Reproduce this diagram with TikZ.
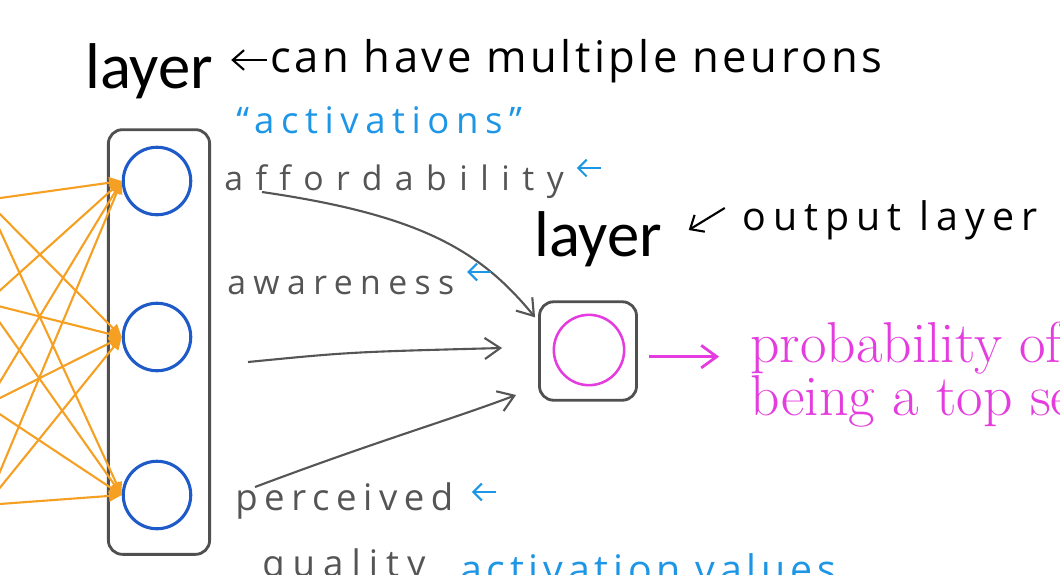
\documentclass[tikz,border=0pt]{standalone}
\usepackage{fontspec}
\usetikzlibrary{arrows.meta,positioning,calc}
\newfontfamily\labelfont{Carlito}
\newfontfamily\handfont[Ligatures=NoCommon]{Open Sans}
% handwriting-like notes: size, letter spacing
\newcommand\hand[2]{\handfont\fontsize{#1}{#1}\selectfont\addfontfeatures{LetterSpace=#2}}
\definecolor{hiddenblue}{RGB}{30,90,200}
\definecolor{edgeorange}{RGB}{245,160,35}
\definecolor{notegray}{RGB}{85,85,85}
\definecolor{noteblue}{RGB}{30,150,230}
\definecolor{outmagenta}{RGB}{228,60,222}
\definecolor{boxgray}{RGB}{80,80,80}

\begin{document}
\begin{tikzpicture}[x=0.025cm, y=-0.025cm,
    layerbox/.style={rectangle, rounded corners=10pt, draw=boxgray, line width=2pt, inner sep=0pt},
    neuron/.style={circle, draw=hiddenblue, line width=2.2pt, minimum size=48pt, inner sep=0pt},
    outneuron/.style={circle, draw=outmagenta, line width=1.8pt, minimum size=50pt, inner sep=0pt},
    synapse/.style={-{Triangle[length=9pt,width=8pt]}, edgeorange, line width=1.5pt},
    flow/.style={-{Straight Barb[length=11pt,width=15pt]}, notegray, line width=1.5pt},
    note/.style={anchor=base west, inner sep=0pt},
    bluetick/.style={-{Straight Barb[length=6pt,width=12pt]}, noteblue, line width=1.5pt},
    blacktick/.style={-{Straight Barb[length=8pt,width=14pt]}, black, line width=1.5pt}
]
\useasboundingbox (0,0) rectangle (1060,574);
\clip (0,0) rectangle (1060,574);

% hidden layer
\node[layerbox, minimum width=72pt, minimum height=302pt] (hbox) at (159,342) {};
\node[neuron] (h1) at (157,181) {};
\node[neuron] (h2) at (157,337) {};
\node[neuron] (h3) at (157,495) {};

% inputs (off the left edge)
\coordinate (in1) at (-14,200);
\coordinate (in2) at (-14,303);
\coordinate (in3) at (-14,405);
\coordinate (in4) at (-14,505);
\foreach \i in {1,...,4}
  \foreach \j in {1,2,3}
    \draw[synapse] (in\i) -- (h\j.west);

% output layer
\node[layerbox, minimum width=69pt, minimum height=70pt] (obox) at (588,351) {};
\node[outneuron] (o1) at (589,350) {};

% titles
\node[note, font=\labelfont\fontsize{46}{46}\selectfont] (lay1) at (85,88) {layer};
\node[note, font=\labelfont\fontsize{46}{46}\selectfont] (lay2) at (534,256) {layer};
\node[note, font={\hand{31}{8}}] (multi) at (270,72) {can have multiple neurons};
\node[note, font={\hand{28}{18}}] (outl) at (742,230) {output layer};
\node[note, font={\hand{26}{18}}, text=noteblue] (act) at (236,133) {“activations”};

% activations
\node[note, font={\hand{24}{37}}, text=notegray] (aff) at (224,190) {affordability};
\node[note, font={\hand{24}{22}}, text=notegray] (awa) at (227,294) {awareness};
\node[note, font={\hand{26}{18}}, text=notegray] (per) at (235,510) {perceived};
\node[note, font={\hand{26}{22}}, text=notegray] (qua) at (262,576) {quality};
\node[note, font={\hand{28}{12}}, text=noteblue] (actv) at (460,583) {activation values};

% output
\node[note, font=\fontsize{41}{37}\selectfont, text=outmagenta, align=left] (prob) at (750,415) {probability of\\being a top seller};

% connectors
\coordinate (a1) at (262,192);
\coordinate (b1) at (248,362);
\coordinate (c1) at (255,487);
\draw[flow] (a1) .. controls (420,215) and (480,250) .. ($(obox.north west)+(-3,17)$);
\draw[flow] (b1) .. controls (350,352) .. ($(obox.west)+(-36,-3)$);
\draw[flow] (c1) .. controls (380,440) and (450,420) .. ($(obox.west)+(-22,44)$);
\draw[-{Straight Barb[length=11pt,width=16pt]}, outmagenta, line width=2pt]
  ([xshift=8pt,yshift=-4pt]obox.east) -- ([xshift=-22pt,yshift=-4pt]obox.east -| prob.west);

% annotation arrows
\draw[blacktick] ([xshift=-2pt]multi.base west) ++(0,-12) -- ++(-36,0);
\draw[blacktick] ([xshift=-8pt]outl.base west) ++(-6,-22) -- ++(-36,22);
\draw[bluetick] ([xshift=26pt]aff.base east) ++(0,-22) -- ++(-24,0);
\draw[bluetick] ([xshift=26pt]awa.base east) ++(0,-22) -- ++(-24,0);
\draw[bluetick] ([xshift=30pt]per.base east) ++(0,-18) -- ++(-24,0);
\end{tikzpicture}
\end{document}
